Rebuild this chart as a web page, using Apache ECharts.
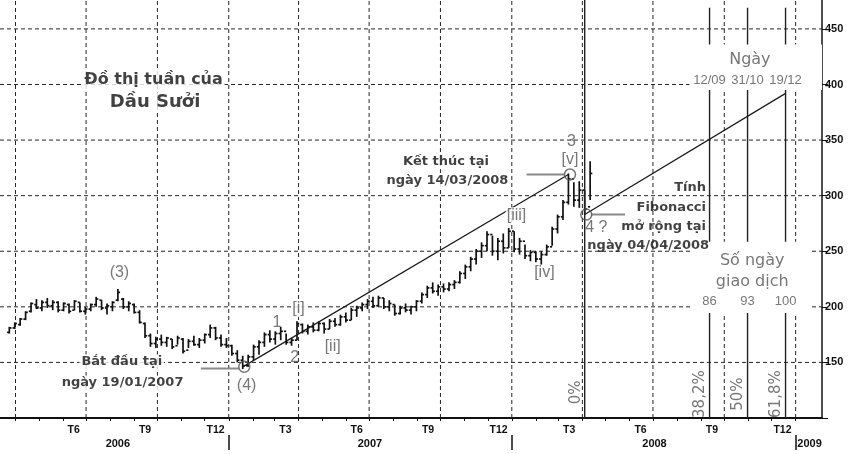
<!DOCTYPE html>
<html><head><meta charset="utf-8">
<script src="https://cdn.jsdelivr.net/npm/echarts@6/dist/echarts.min.js"></script>
<style>html,body{margin:0;padding:0;background:#fff}#c{width:853px;height:454px}</style>
</head><body><div id="c"></div>
<script>
// ---------- data ----------
const firstWeek = '2006-03-24';           // weekly bars, one every 7 days
const lows   = [176,180,183,188,195,198,196,199,197,195,196,194,197,195,193,196,200,197,193,196,205,198,196,194,185,172,164,163,165,164,162,166,158,163,165,163,167,172,170,164,163,156,150,144,146,152,157,164,168,166,170,166,165,170,176,175,177,178,176,180,182,183,186,188,191,196,198,199,200,198,196,192,193,195,193,196,203,208,212,210,213,214,216,221,225,232,238,244,250,246,242,248,253,249,247,243,241,240,238,246,255,266,278,292,290,289,283,296];
const highs  = [182,186,190,196,204,207,206,208,206,205,204,203,206,204,200,203,209,206,203,205,216,208,205,203,197,186,176,173,175,173,171,174,172,171,174,172,176,184,182,175,172,166,161,156,157,166,170,177,179,178,182,176,172,187,185,184,186,187,186,189,190,193,195,199,201,204,207,209,210,208,206,202,201,203,201,206,213,219,222,220,221,222,224,232,238,245,252,258,268,264,262,266,271,268,262,256,251,250,250,256,272,283,296,320,312,313,305,331];
const opens  = [177,181,184,189,196,202,199,204,201,204,197,202,197,204,196,198,202,206,199,200,206,207,200,202,195,185,174,167,171,168,171,165,171,161,169,166,170,175,181,172,166,165,158,152,147,155,164,168,175,171,176,178,168,170,184,178,182,179,185,180,187,184,191,188,197,199,202,205,201,208,200,202,194,199,197,200,205,211,217,214,218,216,220,222,230,236,243,250,255,265,250,259,253,268,252,259,246,249,243,247,254,270,281,294,315,296,305,290];
const closes = [181,185,189,195,203,199,204,201,204,197,203,196,205,196,198,202,207,199,201,204,213,200,203,195,186,174,167,171,168,172,164,172,160,169,166,170,175,181,172,166,165,158,152,147,155,164,168,175,171,176,178,168,170,185,178,182,179,185,180,187,184,191,188,197,199,202,205,201,208,200,203,194,199,197,200,205,211,217,214,218,216,220,222,230,236,243,250,255,265,250,259,253,268,252,259,246,249,243,247,254,270,281,294,315,296,305,288,320];

const monthLabels     = ['T6','T9','T12','T3','T6','T9','T12','T3','T6','T9','T12'];
const monthLabelDates = ['2006-06-15','2006-09-15','2006-12-15','2007-03-15','2007-06-15','2007-09-15','2007-12-15','2008-03-15','2008-06-15','2008-09-15','2008-12-15'];
const yearLabels      = ['2006','2007','2008','2009'];
const yearLabelDates  = ['2006-08-11','2007-07-02','2008-07-03','2009-01-19'];
const yearBreaks      = ['2007-01-01','2008-01-01','2009-01-01'];
const quarterStarts   = ['2006-04-01','2006-07-01','2006-10-01','2007-01-01','2007-04-01','2007-07-01','2007-10-01','2008-01-01','2008-04-01','2008-07-01','2008-10-01','2009-01-01'];
const priceTicks      = [150,200,250,300,350,400,450];

const waveStart   = ['2007-01-19', 146];   // (4) – 19/01/2007
const waveEnd     = ['2008-03-14', 319];   // [v] – 14/03/2008
const fibAnchor   = ['2008-04-04', 283];   // 4 ? – 04/04/2008
const fibTarget   = ['2008-12-19', 392];
const fibDates    = ['2008-09-12','2008-10-31','2008-12-19'];
const fibDayLabels= ['12/09','31/10','19/12'];
const fibPercents = ['38,2%','50%','61,8%'];
const tradingDays = ['86','93','100'];

// ---------- helpers ----------
const DAY = 864e5;
const t = s => { const p = s.split('-').map(Number); return new Date(p[0], p[1]-1, p[2]).getTime(); };
const X_MIN = t('2006-03-12'), X_MAX = t('2009-02-04');
const Y_MIN = 100, Y_MAX = 476;
const weekDates = lows.map((_, i) => t(firstWeek) + i * 7 * DAY);
const ohlc = weekDates.map((d, i) => [d, opens[i], closes[i], lows[i], highs[i]]);
const monthTicks = [];
for (let k = 0; k <= 33; k++) monthTicks.push(new Date(2006, 3 + k, 1).getTime());

function segSeries(segs, style, z) {
  return {
    type: 'custom', z, silent: true, clip: false,
    encode: { x: [0, 2], y: [1, 3] },
    data: segs,
    renderItem(params, api) {
      const a = api.coord([api.value(0), api.value(1)]);
      const b = api.coord([api.value(2), api.value(3)]);
      return { type: 'line', shape: { x1: a[0], y1: a[1], x2: b[0], y2: b[1] }, style };
    }
  };
}
function rectSeries(rects, z) {
  return {
    type: 'custom', z, silent: true, clip: false,
    encode: { x: [0, 2], y: [1, 3] },
    data: rects,
    renderItem(params, api) {
      const a = api.coord([api.value(0), api.value(3)]);
      const b = api.coord([api.value(2), api.value(1)]);
      return { type: 'rect', shape: { x: a[0], y: a[1], width: b[0] - a[0], height: b[1] - a[1] }, style: { fill: '#fff' } };
    }
  };
}

const BOLD = { fontFamily: 'DejaVu Sans', fontWeight: 'bold', fontSize: 13, color: '#111', backgroundColor: '#fff', padding: [1, 2] };
const GRAY = { fontFamily: 'Liberation Sans', fontSize: 16, color: '#555' };
const GRAYW = Object.assign({}, GRAY, { backgroundColor: '#fff', padding: [0, 1] });
const NUM = { fontFamily: 'Liberation Sans', fontSize: 13, color: '#555' };
const PCT = Object.assign({}, GRAY, { fontFamily: 'DejaVu Sans', fontSize: 15, rotate: 90, offset: [0, -9] });
const txt = (d, v, name, st) => ({ value: [t(d), v], name, label: Object.assign({}, st) });
const RB = Object.assign({}, BOLD, { align: 'right', backgroundColor: 'transparent' });

const texts = [
  txt('2006-09-26', 404, 'Đồ thị tuần của', Object.assign({}, BOLD, { fontSize: 16 })),
  txt('2006-09-28', 384, 'Dầu Sưởi', Object.assign({}, BOLD, { fontSize: 18 })),
  txt('2006-08-13', 231, '(3)', GRAY),
  txt('2006-08-16', 150.5, 'Bắt đầu tại', BOLD),
  txt('2006-08-17', 131.5, 'ngày 19/01/2007', BOLD),
  txt('2007-01-24', 129.5, '(4)', GRAY),
  txt('2007-03-04', 185.5, '1', GRAY),
  txt('2007-03-27', 154, '2', GRAY),
  txt('2007-04-01', 198, '[i]', GRAYW),
  txt('2007-05-15', 164, '[ii]', GRAYW),
  txt('2008-01-07', 282.5, '[iii]', GRAYW),
  txt('2008-02-12', 230.5, '[iv]', GRAYW),
  txt('2008-03-16', 332, '[v]', GRAYW),
  txt('2008-03-18', 349, '3', GRAY),
  txt('2008-04-19', 271, '4 ?', GRAY),
  txt('2007-10-08', 330.5, 'Kết thúc tại', BOLD),
  txt('2007-10-10', 313.5, 'ngày 14/03/2008', BOLD),
  txt('2008-09-10', 307, 'Tính', RB),
  txt('2008-09-10', 289, 'Fibonacci', RB),
  txt('2008-09-10', 272, 'mở rộng tại', RB),
  txt('2008-09-14', 255, 'ngày 04/04/2008', RB),
  txt('2008-11-03', 422, 'Ngày', Object.assign({}, GRAY, { fontFamily: 'DejaVu Sans' })),
  txt('2008-11-06', 241.5, 'Số ngày', Object.assign({}, GRAY, { fontFamily: 'DejaVu Sans' })),
  txt('2008-11-06', 222.5, 'giao dịch', Object.assign({}, GRAY, { fontFamily: 'DejaVu Sans' })),
  txt(fibAnchor[0], 123, '0%', PCT)
];
fibDates.forEach((d, i) => {
  texts.push(txt(d, 404, fibDayLabels[i], NUM));
  texts.push(txt(d, 204.5, tradingDays[i], NUM));
  texts.push(txt(d, 121.5, fibPercents[i], PCT));
});

// ---------- chart ----------
const chart = echarts.init(document.getElementById('c'), null, { renderer: 'canvas' });
const gridDash = { stroke: '#262626', lineWidth: 1, lineDash: [4, 3] };
const mT = monthLabelDates.map(t), yT = yearLabelDates.map(t);

chart.setOption({
  animation: false,
  backgroundColor: '#fff',
  grid: { left: 0, right: 31, top: 0, bottom: 36 },
  xAxis: [{
    type: 'value', min: X_MIN, max: X_MAX, position: 'bottom',
    axisLine: { show: true, lineStyle: { color: '#111', width: 2 } },
    axisTick: { show: true, length: 3, lineStyle: { color: '#111' }, customValues: monthTicks },
    axisLabel: { show: true, margin: 7, fontSize: 10.5, fontWeight: 'bold', color: '#111', fontFamily: 'Liberation Sans',
      customValues: mT,
      formatter: v => { const i = mT.indexOf(v); return i >= 0 ? monthLabels[i] : ''; } },
    splitLine: { show: false }
  }, {
    type: 'value', min: X_MIN, max: X_MAX, position: 'bottom', offset: 17,
    axisLine: { show: false },
    axisTick: { show: true, length: 15, lineStyle: { color: '#111', width: 1.5 }, customValues: yearBreaks.map(t) },
    axisLabel: { show: true, margin: 3, fontSize: 11, fontWeight: 'bold', color: '#111', fontFamily: 'Liberation Sans',
      customValues: yT,
      formatter: v => { const i = yT.indexOf(v); return i >= 0 ? yearLabels[i] : ''; } },
    splitLine: { show: false }
  }],
  yAxis: {
    type: 'value', position: 'right', min: Y_MIN, max: Y_MAX, interval: 50,
    axisLine: { show: true, lineStyle: { color: '#111', width: 1.5 } },
    axisTick: { show: true, length: 6, lineStyle: { color: '#111' }, customValues: [100].concat(priceTicks) },
    axisLabel: { show: true, margin: 3, fontSize: 11, fontWeight: 'bold', color: '#111', fontFamily: 'Liberation Sans',
      customValues: priceTicks },
    splitLine: { show: false }
  },
  series: [
    segSeries(quarterStarts.map(d => [t(d), Y_MIN, t(d), Y_MAX]), gridDash, 1),
    segSeries(priceTicks.map(v => [X_MIN, v, X_MAX, v]), gridDash, 1),
    {
      type: 'custom', z: 3, silent: true,
      encode: { x: 0, y: [1, 2, 3, 4] },
      data: ohlc,
      renderItem(params, api) {
        const x = api.value(0);
        const h = api.coord([x, api.value(4)]), l = api.coord([x, api.value(3)]);
        const o = api.coord([x, api.value(1)]), c = api.coord([x, api.value(2)]);
        const st = { stroke: '#111', lineWidth: 1.7 };
        return { type: 'group', children: [
          { type: 'line', shape: { x1: h[0], y1: h[1], x2: l[0], y2: l[1] }, style: st },
          { type: 'line', shape: { x1: o[0] - 2.2, y1: o[1], x2: o[0], y2: o[1] }, style: st },
          { type: 'line', shape: { x1: c[0], y1: c[1], x2: c[0] + 2.2, y2: c[1] }, style: st }
        ] };
      }
    },
    segSeries([[t(fibAnchor[0]), Y_MIN, t(fibAnchor[0]), Y_MAX]].concat(fibDates.map(d => [t(d), Y_MIN, t(d), 469])),
      { stroke: '#222', lineWidth: 1.4 }, 4),
    segSeries([[t(waveStart[0]), waveStart[1], t(waveEnd[0]), waveEnd[1]],
               [t(fibAnchor[0]), fibAnchor[1], t(fibTarget[0]), fibTarget[1]]],
      { stroke: '#1a1a1a', lineWidth: 1.2 }, 5),
    segSeries([[t('2006-11-26'), 144.5, t('2007-01-14'), 144.5],
               [t('2008-01-20'), 319, t('2008-03-09'), 319],
               [t('2008-04-12'), 283, t('2008-05-26'), 283]],
      { stroke: '#8a8a8a', lineWidth: 2 }, 5),
    rectSeries([[t('2008-08-17'), 395, X_MAX, 436],
                [t('2008-08-21'), 194.5, t('2009-01-19'), 258.5]], 6),
    {
      type: 'scatter', z: 7, silent: true, symbol: 'circle', symbolSize: 11,
      itemStyle: { color: 'rgba(255,255,255,0)', borderColor: '#555', borderWidth: 1.5 },
      data: [[t(waveStart[0]) + 2 * DAY, waveStart[1]], [t(waveEnd[0]) + 2 * DAY, waveEnd[1]], [t(fibAnchor[0]) + 2 * DAY, fibAnchor[1]]]
    },
    {
      type: 'scatter', z: 8, silent: true, symbolSize: 0,
      label: { show: true, position: 'inside', formatter: '{b}' },
      data: texts
    }
  ]
});
</script>
</body></html>
